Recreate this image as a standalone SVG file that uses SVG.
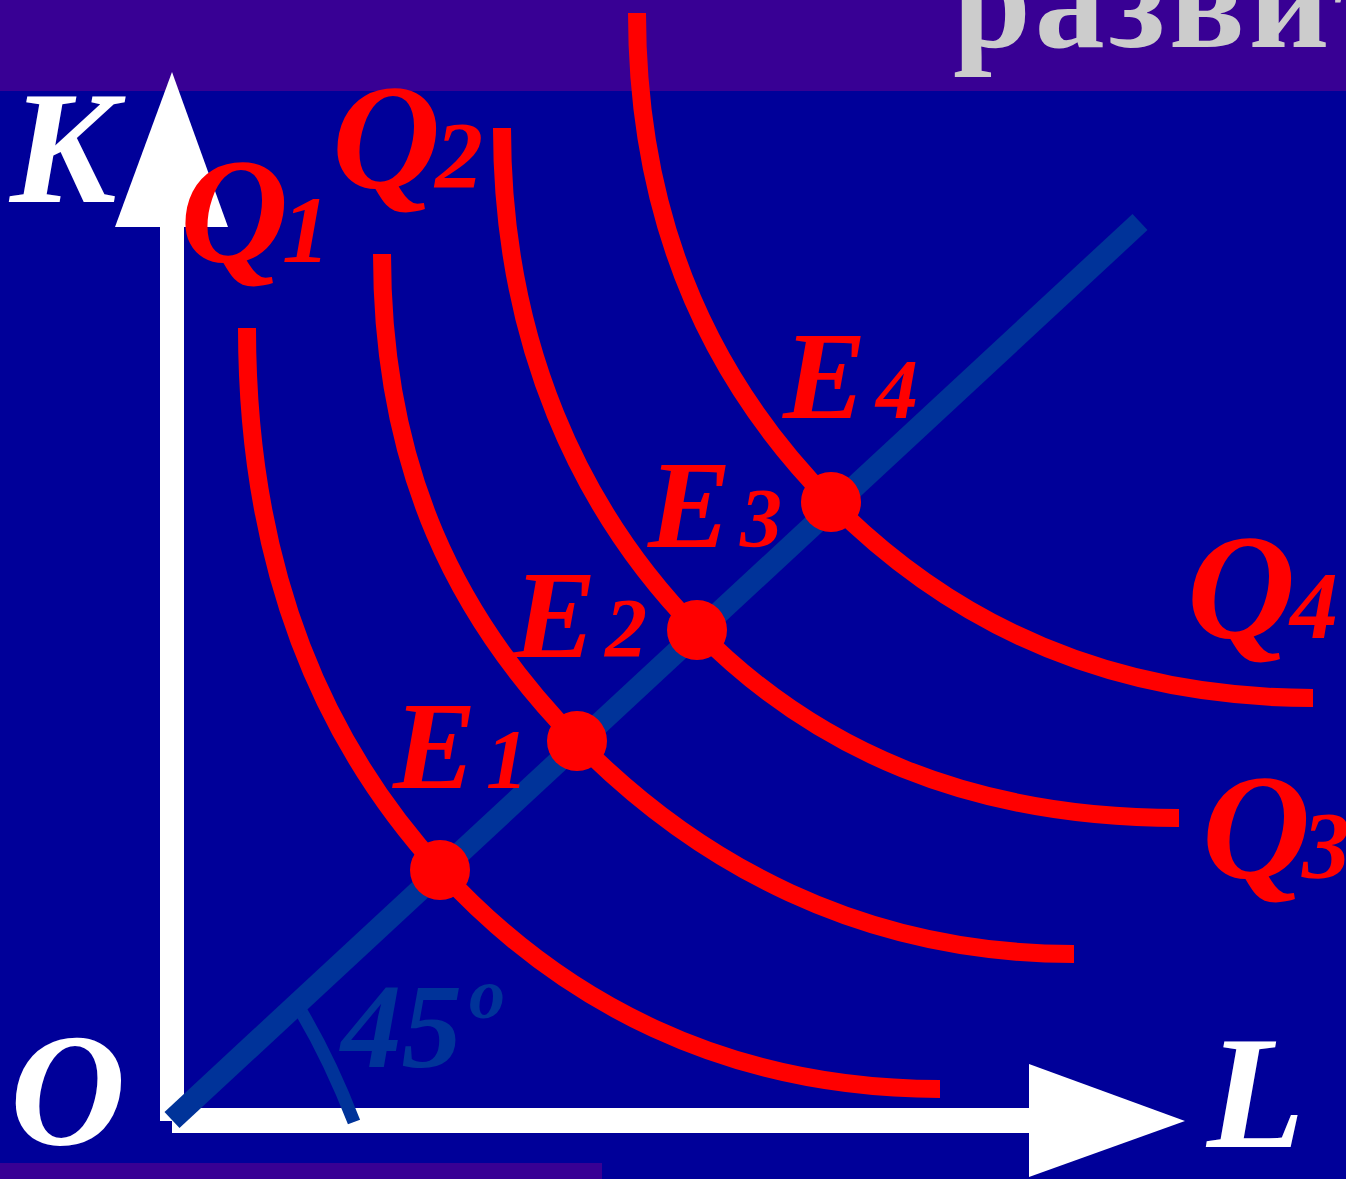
<svg xmlns="http://www.w3.org/2000/svg" width="1346" height="1179" viewBox="0 0 1346 1179">
<style>
.lbl{font-family:"Liberation Serif","Times New Roman",serif;font-weight:bold;font-style:italic}
.white{fill:#ffffff}
.red{fill:#ff0000}
.curve{fill:none;stroke:#ff0000;stroke-width:18}
.dot{fill:#ff0000}
</style>
<rect x="0" y="0" width="1346" height="1179" fill="#000099"/>
<rect x="0" y="0" width="1346" height="91" fill="#380094"/>
<rect x="0" y="1163" width="602" height="16" fill="#380094"/>
<text x="953" y="47" font-family="'Liberation Serif','Times New Roman',serif" font-weight="bold" font-size="140" letter-spacing="4" fill="#cccccc">развит</text>

<g id="axis-K">
<rect x="160" y="224" width="24" height="897" fill="#ffffff"/>
<polygon points="172,72 228,227 115,227" fill="#ffffff"/>
</g>
<g id="axis-L">
<rect x="172" y="1108" width="860" height="25" fill="#ffffff"/>
<polygon points="1185,1121 1029,1177 1029,1064" fill="#ffffff"/>
</g>
<text class="lbl white" x="10" y="202" font-size="160">K</text>
<text class="lbl white" x="10" y="1144" font-size="160">O</text>
<text class="lbl white" x="1207" y="1147" font-size="160">L</text>

<g id="angle">
<path d="M296,1003 Q328,1055 354,1122" fill="none" stroke="#003399" stroke-width="13"/>
<text class="lbl" x="341" y="1067" font-size="121" fill="#003399">45</text>
<text class="lbl" x="469" y="1018" font-size="72" fill="#003399">o</text>
</g>

<g id="connectors">
<line id="ray" x1="172" y1="1120" x2="1140" y2="222" stroke="#003399" stroke-width="22"/>
</g>

<g id="Q1">
<path class="curve" d="M247,328 C247,564 320,739 440,870 C560,1001 725,1089 940,1089"/>
<text class="lbl red" x="180" y="262" font-size="150">Q<tspan font-size="96" x="282">1</tspan></text>
</g>
<g id="Q2">
<path class="curve" d="M382,254 C382,471 458,620 577,741 C696,862 860,954 1074,954"/>
<text class="lbl red" x="332" y="188" font-size="150">Q<tspan font-size="96" x="435">2</tspan></text>
</g>
<g id="Q3">
<path class="curve" d="M502,128 C502,342 580,511 697,630 C814,749 969,818 1179,818"/>
<text class="lbl red" x="1202" y="878" font-size="150">Q<tspan font-size="96" x="1302">3</tspan></text>
</g>
<g id="Q4">
<path class="curve" d="M637,13 C637,225 714,384 831,502 C948,620 1103,698 1313,698"/>
<text class="lbl red" x="1187" y="638" font-size="150">Q<tspan font-size="96" x="1290">4</tspan></text>
</g>

<g id="E1">
<circle class="dot" cx="440" cy="870" r="30"/>
<text class="lbl red" x="393" y="788" font-size="125">E<tspan font-size="84" x="486">1</tspan></text>
</g>
<g id="E2">
<circle class="dot" cx="577" cy="741" r="30"/>
<text class="lbl red" x="513" y="657" font-size="125">E<tspan font-size="84" x="605">2</tspan></text>
</g>
<g id="E3">
<circle class="dot" cx="697" cy="630" r="30"/>
<text class="lbl red" x="648" y="547" font-size="125">E<tspan font-size="84" x="740">3</tspan></text>
</g>
<g id="E4">
<circle class="dot" cx="831" cy="502" r="30"/>
<text class="lbl red" x="783" y="418" font-size="125">E<tspan font-size="84" x="876">4</tspan></text>
</g>
</svg>
